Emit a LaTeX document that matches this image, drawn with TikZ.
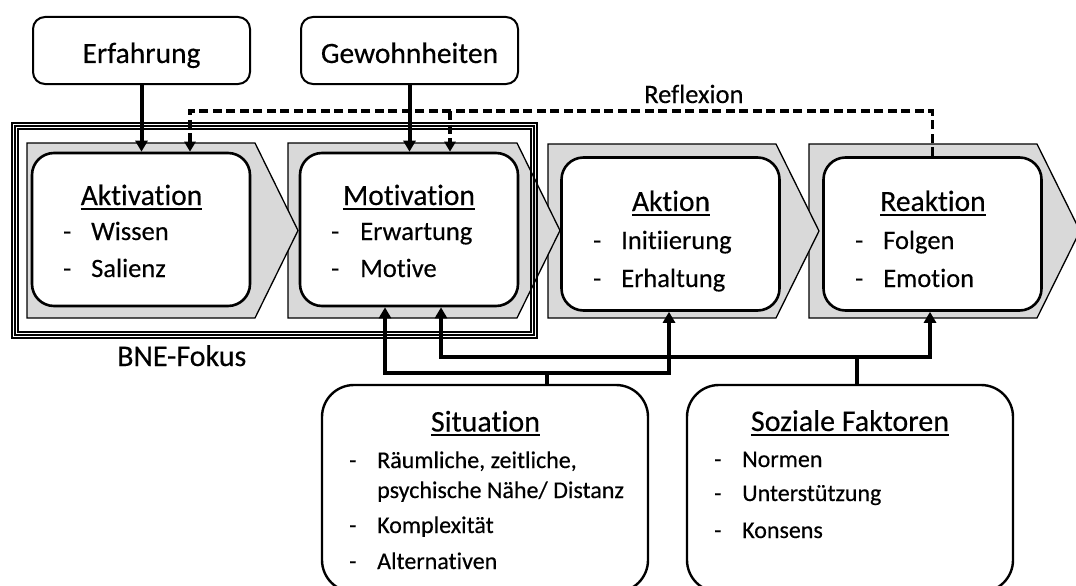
\documentclass[tikz,border=0pt]{standalone}
\usepackage{fontspec}
\setmainfont{Carlito}[Ligatures=NoCommon, FakeBold=0.35]
\usetikzlibrary{arrows.meta}
\definecolor{chevgray}{RGB}{217,217,217}
\tikzset{
  chev/.style={fill=chevgray, draw=black, line width=1.3pt, line join=miter},
  frm/.style={draw=black, line width=1.2pt},
  ibox/.style={draw, line width=2.6pt, rounded corners=22pt, fill=white, minimum width=218pt, minimum height=153pt, inner sep=0pt},
  tbox/.style={draw, line width=2pt, rounded corners=12pt, fill=white, minimum width=217pt, minimum height=67pt, inner sep=0pt},
  bbox/.style={draw, line width=2.4pt, rounded corners=32pt, fill=white, minimum width=326pt, minimum height=207pt, inner sep=0pt},
  ttl/.style={inner sep=0pt, anchor=base, font=\fontsize{29.5}{35}\selectfont},
  itm/.style={inner sep=0pt, anchor=base west, font=\fontsize{26.5}{32}\selectfont},
  bitm/.style={inner sep=0pt, anchor=base west, font=\fontsize{24}{29}\selectfont},
  uline/.style={line width=2pt},
  conn/.style={line width=4pt, line join=miter, -{Triangle[length=11pt,width=12pt]}},
  refl/.style={line width=3.3pt, dash pattern=on 9pt off 4.5pt, -{Triangle[length=10pt,width=11pt]}},
}
\newcommand\ulnode[1]{\draw[uline] ([yshift=-3.8pt]#1.base west) -- ([yshift=-3.8pt]#1.base east);}
\begin{document}
\begin{tikzpicture}[x=1pt,y=-1pt]
\useasboundingbox (0,0) rectangle (1076,586);
\clip (0,0) rectangle (1076,586);
\fill[white] (0,0) rectangle (1076,586);

% chevrons (right to left so that tips overlay)
\draw[chev] (809,144) -- (1037,144) -- (1080,231) -- (1037,318) -- (809,318) -- cycle;
\draw[chev] (548,144) -- (776,144) -- (819,231) -- (776,318) -- (548,318) -- cycle;
\draw[chev] (288,143) -- (517,143) -- (560,230.5) -- (517,318) -- (288,318) -- cycle;
\draw[chev] (27,143) -- (255,143) -- (298,230.5) -- (255,318) -- (27,318) -- cycle;

% BNE frame (triple line)
\draw[frm] (12,123) rectangle (537,338);
\draw[frm] (15,126) rectangle (534,335);
\draw[frm] (18,129) rectangle (531,332);

% inner boxes
\node[ibox] (akt) at (141,229.5) {};
\node[ibox] (mot) at (409,229.5) {};
\node[ibox] (aktn) at (670.5,234) {};
\node[ibox] (rea) at (932.5,234) {};

% top boxes
\node[tbox] (erf) at (141.5,50.5) {};
\node[tbox] (gew) at (409.5,50.5) {};
\node[ttl] (terf) at (141.5,63) {Erfahrung};
\node[ttl] (tgew) at (409.5,63) {Gewohnheiten};

% bottom boxes
\node[bbox] (sit) at (485,488.5) {};
\node[bbox] (soz) at (850,488.5) {};

% titles
\node[ttl] (tA) at (141.5,205) {Aktivation}; \ulnode{tA}
\node[ttl] (tM) at (409,205) {Motivation}; \ulnode{tM}
\node[ttl] (tK) at (671,211) {Aktion}; \ulnode{tK}
\node[ttl] (tR) at (933,211) {Reaktion}; \ulnode{tR}
\node[ttl, font=\fontsize{30}{36}\selectfont] (tS) at (485.5,431.5) {Situation}; \ulnode{tS}
\node[ttl, font=\fontsize{30}{36}\selectfont] (tZ) at (850,431) {Soziale Faktoren}; \ulnode{tZ}

% items Aktivation
\node[itm] (a1d) at (63,240) {-};  \node[itm] (a1) at (91,240) {Wissen};
\node[itm] (a2d) at (63,277) {-};  \node[itm] (a2) at (91,277) {Salienz};
% items Motivation
\node[itm] (m1d) at (331,240) {-}; \node[itm] (m1) at (360,240) {Erwartung};
\node[itm] (m2d) at (331,277) {-}; \node[itm] (m2) at (360,277) {Motive};
% items Aktion
\node[itm] (k1d) at (593,249) {-}; \node[itm] (k1) at (621,249) {Initiierung};
\node[itm] (k2d) at (593,287) {-}; \node[itm] (k2) at (621,287) {Erhaltung};
% items Reaktion
\node[itm] (r1d) at (855,249) {-}; \node[itm] (r1) at (883,249) {Folgen};
\node[itm] (r2d) at (855,287) {-}; \node[itm] (r2) at (883,287) {Emotion};
% items Situation
\node[bitm] (s1d) at (349,468) {-}; \node[bitm] (s1) at (377,468) {Räumliche, zeitliche,};
\node[bitm] (s1b) at (377,498) {psychische Nähe/ Distanz};
\node[bitm] (s2d) at (349,533) {-}; \node[bitm] (s2) at (377,533) {Komplexität};
\node[bitm] (s3d) at (349,569) {-}; \node[bitm] (s3) at (377,569) {Alternativen};
% items Soziale Faktoren
\node[bitm] (z1d) at (714,467) {-}; \node[bitm] (z1) at (742,467) {Normen};
\node[bitm] (z2d) at (714,501) {-}; \node[bitm] (z2) at (742,501) {Unterstützung};
\node[bitm] (z3d) at (714,538) {-}; \node[bitm] (z3) at (742,538) {Konsens};

% labels
\node[itm] (lrefl) at (644,103) {Reflexion};
\node[itm, font=\fontsize{30}{36}\selectfont] (lbne) at (117,366) {BNE-Fokus};

% connectors top
\draw[conn] (erf.south) -- (erf.south |- akt.north);
\draw[conn] (gew.south) -- (gew.south |- mot.north);

% reflexion (dashed)
\coordinate (d1) at (190,111);
\coordinate (d2) at (450,111);
\draw[refl] (rea.north) |- (d1) -- (d1 |- akt.north);
\draw[refl] (d2) -- (d2 |- mot.north);

% connectors bottom
\coordinate (s0) at (547,373);
\coordinate (sL) at (385,373);
\coordinate (sR) at (669,373);
\coordinate (z0) at (857,357);
\coordinate (zL) at (441,357);
\coordinate (zR) at (930,357);
\draw[conn] (sit.north -| s0) |- (sL) -- (sL |- mot.south);
\draw[conn] (s0) -- (sR) -- (sR |- aktn.south);
\draw[conn] (soz.north -| z0) |- (zL) -- (zL |- mot.south);
\draw[conn] (z0) -- (zR) -- (zR |- rea.south);
\end{tikzpicture}
\end{document}
